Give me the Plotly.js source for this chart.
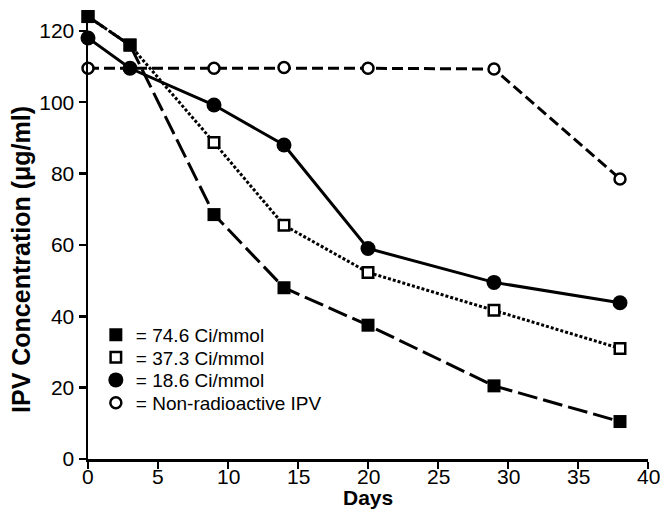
<!DOCTYPE html>
<html>
<head>
<meta charset="utf-8">
<script src="https://cdn.plot.ly/plotly-3.0.1.min.js"></script>
<style>html,body{margin:0;padding:0;background:#fff;}#chart{width:660px;height:512px;}</style>
</head>
<body>
<div id="chart"></div>
<script>
const days = [0, 3, 9, 14, 20, 29, 38];
const daysNonRad = [0, 9, 14, 20, 29, 38];
const ci746 = [124, 116, 68.5, 48, 37.5, 20.5, 10.5];
const ci373 = [124, 116, 88.7, 65.5, 52.3, 41.7, 31];
const ci186 = [118, 109.5, 99.2, 88, 59, 49.5, 43.8];
const nonRad = [109.5, 109.5, 109.7, 109.5, 109.3, 78.5];
const legendLabels = ["= 74.6 Ci/mmol", "= 37.3 Ci/mmol", "= 18.6 Ci/mmol", "= Non-radioactive IPV"];
const xTicks = [0, 5, 10, 15, 20, 25, 30, 35, 40];
const yTicks = [0, 20, 40, 60, 80, 100, 120];

const black = '#000';
const font = 'Liberation Sans, Arial, Helvetica, sans-serif';

const mk = {
  fsq: {symbol: 'square', size: 13, color: black},
  osq: {symbol: 'square', size: 10.5, color: '#fff', line: {color: black, width: 2.5}},
  fci: {symbol: 'circle', size: 15, color: black},
  oci: {symbol: 'circle', size: 11, color: '#fff', line: {color: black, width: 2.5}}
};

const traces = [
  {x: daysNonRad, y: nonRad, mode: 'lines+markers', showlegend: false, cliponaxis: false,
   line: {color: black, width: 3, dash: '11px,5px'}, marker: mk.oci},
  {x: days, y: ci186, mode: 'lines+markers', showlegend: false, cliponaxis: false,
   line: {color: black, width: 3}, marker: mk.fci},
  {x: days, y: ci373, mode: 'lines+markers', showlegend: false, cliponaxis: false,
   line: {color: black, width: 3, dash: '3px,2px'}, marker: mk.osq},
  {x: days, y: ci746, mode: 'lines+markers', showlegend: false, cliponaxis: false,
   line: {color: black, width: 3, dash: '20px,6px'}, marker: mk.fsq},
  // legend-only entries (markers only, as in the reference key), one legend per row
  {x: [null], y: [null], mode: 'markers', name: legendLabels[0], legend: 'legend', marker: mk.fsq},
  {x: [null], y: [null], mode: 'markers', name: legendLabels[1], legend: 'legend2', marker: mk.osq},
  {x: [null], y: [null], mode: 'markers', name: legendLabels[2], legend: 'legend3', marker: mk.fci},
  {x: [null], y: [null], mode: 'markers', name: legendLabels[3], legend: 'legend4', marker: mk.oci}
];

function leg(y) {
  return {x: 0.014, y: y, xanchor: 'left', yanchor: 'middle', bgcolor: 'rgba(0,0,0,0)',
          font: {family: font, size: 19, color: black}, itemwidth: 30, borderwidth: 0};
}

// x tick labels placed as annotations (closer to the axis, as in the reference)
const xTickLabels = xTicks.map(v => ({
  text: String(v), x: v, xref: 'x', yref: 'paper', y: -0.008,
  xanchor: 'center', yanchor: 'top', showarrow: false,
  font: {family: font, size: 21, color: black}
}));

const layout = {
  width: 660, height: 512,
  margin: {l: 88, r: 12, t: 13, b: 53},
  paper_bgcolor: '#fff', plot_bgcolor: '#fff',
  font: {family: font, color: black, size: 20},
  showlegend: true,
  legend: leg(0.278), legend2: leg(0.228), legend3: leg(0.177), legend4: leg(0.126),
  xaxis: {range: [0, 40], tickvals: xTicks, showticklabels: false,
          showline: true, linecolor: black, linewidth: 2.5, mirror: false,
          ticks: 'outside', ticklen: 7, tickwidth: 2.5, tickcolor: black,
          showgrid: false, zeroline: false},
  yaxis: {range: [0, 125], tickvals: yTicks, ticktext: yTicks.map(String),
          showline: true, linecolor: black, linewidth: 2.5,
          ticks: 'outside', ticklen: 7, tickwidth: 2.5, tickcolor: black,
          showgrid: false, zeroline: false,
          tickfont: {family: font, size: 21, color: black}},
  annotations: xTickLabels.concat([
    {text: '<b>Days</b>', xref: 'paper', yref: 'paper', x: 0.5, y: -0.1166,
     xanchor: 'center', yanchor: 'bottom', showarrow: false,
     font: {family: font, size: 21, color: black}},
    {text: '<b>IPV Concentration (μg/ml)</b>', xref: 'paper', yref: 'paper', x: -0.12, y: 0.448,
     xanchor: 'center', yanchor: 'middle', textangle: -90, showarrow: false,
     font: {family: font, size: 25, color: black}}
  ])
};

Plotly.newPlot('chart', traces, layout, {displayModeBar: false, staticPlot: true});
</script>
</body>
</html>
